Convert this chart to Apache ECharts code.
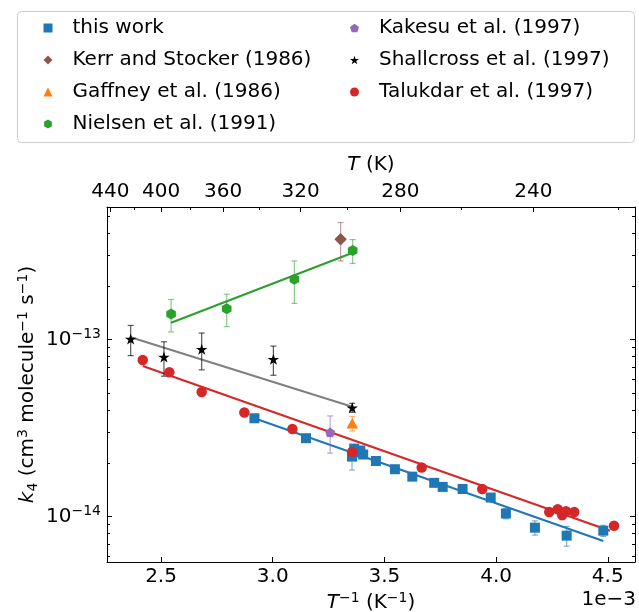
<!DOCTYPE html>
<html>
<head>
<meta charset="utf-8">
<script src="https://cdn.jsdelivr.net/npm/echarts@6/dist/echarts.min.js"></script>
<style>
  html, body { margin: 0; padding: 0; background: #fff; }
  #chart { width: 639px; height: 612px; }
</style>
</head>
<body>
<div id="chart"></div>
<script>
// x values are 1/T in units of 1e-3 K^-1, y values are k4 in cm3 molecule-1 s-1

// this work
const thisWorkX   = [2.918, 3.149, 3.355, 3.365, 3.378, 3.392, 3.405, 3.462, 3.547, 3.625, 3.723, 3.761, 3.850, 3.976, 4.044, 4.174, 4.316, 4.480];
const thisWorkK   = [3.59e-14, 2.77e-14, 2.18e-14, 2.42e-14, 2.30e-14, 2.36e-14, 2.24e-14, 2.06e-14, 1.85e-14, 1.68e-14, 1.55e-14, 1.47e-14, 1.43e-14, 1.28e-14, 1.04e-14, 8.65e-15, 7.80e-15, 8.32e-15];
const thisWorkErr = [0.08e-14, 0.08e-14, 0.35e-14, 0.08e-14, 0.08e-14, 0.08e-14, 0.08e-14, 0.06e-14, 0.05e-14, 0.05e-14, 0.05e-14, 0.05e-14, 0.04e-14, 0.04e-14, 0.07e-14, 0.80e-15, 1.00e-15, 0.60e-15];
const thisWorkFitX = [2.918, 4.480];
const thisWorkFitK = [3.59e-14, 7.28e-15];

// Kerr and Stocker (1986)
const kerrX = [3.304];
const kerrK = [3.68e-13];
const kerrErr = [0.90e-13];

// Gaffney et al. (1986)
const gaffneyX = [3.356];
const gaffneyK = [3.36e-14];
const gaffneyErr = [0.32e-14];

// Nielsen et al. (1991)
const nielsenX = [2.545, 2.794, 3.097, 3.358];
const nielsenK = [1.393e-13, 1.493e-13, 2.19e-13, 3.18e-13];
const nielsenErr = [0.29e-13, 0.31e-13, 0.59e-13, 0.49e-13];
const nielsenFitX = [2.545, 3.358];
const nielsenFitK = [1.244e-13, 3.09e-13];

// Kakesu et al. (1997)
const kakesuX = [3.257];
const kakesuK = [2.99e-14];
const kakesuErr = [0.71e-14];

// Shallcross et al. (1997)
const shallcrossX = [2.364, 2.513, 2.682, 3.003, 3.356];
const shallcrossK = [1.006e-13, 7.96e-14, 8.81e-14, 7.73e-14, 4.12e-14];
const shallcrossErr = [0.195e-13, 1.75e-14, 2.07e-14, 1.45e-14, 0.24e-14];
const shallcrossFitX = [2.364, 3.356];
const shallcrossFitK = [1.03e-13, 4.17e-14];

// Talukdar et al. (1997)
const talukdarX = [2.418, 2.537, 2.682, 2.873, 3.088, 3.356, 3.667, 3.938, 4.238, 4.276, 4.296, 4.313, 4.350, 4.528];
const talukdarK = [7.66e-14, 6.53e-14, 5.05e-14, 3.87e-14, 3.12e-14, 2.32e-14, 1.89e-14, 1.43e-14, 1.06e-14, 1.10e-14, 1.02e-14, 1.07e-14, 1.06e-14, 8.87e-15];
const talukdarErr = [0.10e-14, 0.10e-14, 0.20e-14, 0.08e-14, 0.06e-14, 0.05e-14, 0.04e-14, 0.03e-14, 0.03e-14, 0.03e-14, 0.06e-14, 0.03e-14, 0.03e-14, 0.03e-14];
const talukdarFitX = [2.418, 4.510];
const talukdarFitK = [7.08e-14, 8.32e-15];

// axis ticks
const bottomTicks = [2.5, 3.0, 3.5, 4.0, 4.5];
const topMajorT = [440, 400, 360, 320, 280, 240];
const topMinorT = [420, 380, 340, 300, 260, 220];
const yMajor = [1e-14, 1e-13];

// ---------------------------------------------------------------
const FONT = 'DejaVu Sans';
const X_MIN = 2.258, X_MAX = 4.622;
const Y_MIN = 5.534e-15, Y_MAX = 5.607e-13;

const yMinor = [];
[-15, -14, -13].forEach(e => {
  for (let m = 2; m <= 9; m++) {
    const v = m * Math.pow(10, e);
    if (v > Y_MIN && v < Y_MAX) yMinor.push(v);
  }
});

const SYM = {
  hexagon: 'path://M0,-1L0.866,-0.5L0.866,0.5L0,1L-0.866,0.5L-0.866,-0.5Z',
  pentagon: 'path://M0,-1L0.951,-0.309L0.588,0.809L-0.588,0.809L-0.951,-0.309Z',
  star: 'path://M0,-1L0.2245,-0.309L0.951,-0.309L0.3633,0.118L0.5878,0.809L0,0.382L-0.5878,0.809L-0.3633,0.118L-0.951,-0.309L-0.2245,-0.309Z'
};

const sets = [
  { name: 'this work', x: thisWorkX, k: thisWorkK, err: thisWorkErr, fitX: thisWorkFitX, fitK: thisWorkFitK },
  { name: 'Kerr and Stocker (1986)', x: kerrX, k: kerrK, err: kerrErr },
  { name: 'Gaffney et al. (1986)', x: gaffneyX, k: gaffneyK, err: gaffneyErr },
  { name: 'Nielsen et al. (1991)', x: nielsenX, k: nielsenK, err: nielsenErr, fitX: nielsenFitX, fitK: nielsenFitK },
  { name: 'Kakesu et al. (1997)', x: kakesuX, k: kakesuK, err: kakesuErr },
  { name: 'Shallcross et al. (1997)', x: shallcrossX, k: shallcrossK, err: shallcrossErr, fitX: shallcrossFitX, fitK: shallcrossFitK },
  { name: 'Talukdar et al. (1997)', x: talukdarX, k: talukdarK, err: talukdarErr, fitX: talukdarFitX, fitK: talukdarFitK }
];

const look = {
  'this work':                { color: '#1f77b4', err: 'rgba(31,119,180,0.55)',  fit: '#1f77b4', symbol: 'rect',       size: 10 },
  'Kerr and Stocker (1986)':  { color: '#8c564b', err: 'rgba(140,86,75,0.55)',   symbol: 'diamond',    size: 12.5 },
  'Gaffney et al. (1986)':    { color: '#ff7f0e', err: 'rgba(255,127,14,0.6)',   symbol: 'triangle',   size: [11.5, 10.5] },
  'Nielsen et al. (1991)':    { color: '#2ca02c', err: 'rgba(44,160,44,0.55)',   fit: '#2ca02c', symbol: SYM.hexagon,  size: [9.6, 11] },
  'Kakesu et al. (1997)':     { color: '#9467bd', err: 'rgba(148,103,189,0.6)',  symbol: SYM.pentagon, size: [10, 9.5] },
  'Shallcross et al. (1997)': { color: '#000000', err: 'rgba(0,0,0,0.65)',       fit: '#808080', symbol: SYM.star,     size: [11.5, 11] },
  'Talukdar et al. (1997)':   { color: '#d62728', err: 'rgba(214,39,40,0.55)',   fit: '#d62728', symbol: 'circle',     size: 10.5 }
};

function errorBars(color) {
  return function (params, api) {
    const x = api.value(0);
    const lo = api.coord([x, api.value(1)]);
    const hi = api.coord([x, api.value(2)]);
    const style = { stroke: color, lineWidth: 1.2, fill: null };
    const cap = 3;
    return {
      type: 'group',
      children: [
        { type: 'line', shape: { x1: lo[0], y1: lo[1], x2: hi[0], y2: hi[1] }, style },
        { type: 'line', shape: { x1: lo[0] - cap, y1: lo[1], x2: lo[0] + cap, y2: lo[1] }, style },
        { type: 'line', shape: { x1: hi[0] - cap, y1: hi[1], x2: hi[0] + cap, y2: hi[1] }, style }
      ]
    };
  };
}

const series = [];
sets.forEach(s => {
  const L = look[s.name];
  if (s.fitX) {
    series.push({
      name: s.name + ' fit', type: 'line', silent: true, z: 2,
      data: s.fitX.map((x, i) => [x, s.fitK[i]]),
      showSymbol: false, symbol: 'none',
      lineStyle: { color: L.fit, width: 2.1 }
    });
  }
});
sets.forEach(s => {
  const L = look[s.name];
  series.push({
    name: s.name + ' err', type: 'custom', silent: true, z: 3,
    renderItem: errorBars(L.err),
    encode: { x: 0, y: [1, 2] },
    data: s.x.map((x, i) => [x, s.k[i] - s.err[i], s.k[i] + s.err[i]])
  });
  series.push({
    name: s.name, type: 'scatter', z: 4,
    symbol: L.symbol, symbolSize: L.size,
    itemStyle: { color: L.color, opacity: 1 },
    data: s.x.map((x, i) => [x, s.k[i]])
  });
});

const baseText = { fontFamily: FONT, fontSize: 20, color: '#000', lineHeight: 24 };
const rich = {
  n:   { fontFamily: FONT, fontSize: 20, color: '#000', lineHeight: 24 },
  i:   { fontFamily: FONT, fontSize: 20, color: '#000', lineHeight: 24, fontStyle: 'italic' },
  sup: { fontFamily: FONT, fontSize: 14, color: '#000', lineHeight: 12, verticalAlign: 'top' },
  sub: { fontFamily: FONT, fontSize: 14, color: '#000', lineHeight: 12, verticalAlign: 'bottom' }
};

const tickLine = { show: true, lineStyle: { color: '#000', width: 1 } };
const noLine = { show: false };

// legend marker box is 9 px; the label is pushed right so it starts ~24 px after the marker centre
const legendCommon = {
  orient: 'vertical', padding: 0, itemGap: 10, itemWidth: 9, itemHeight: 9,
  selectedMode: false,
  textStyle: { fontFamily: FONT, fontSize: 20, color: '#000', lineHeight: 22, padding: [0, 0, 0, 15] }
};

const option = {
  animation: false,
  backgroundColor: '#fff',
  grid: { left: 107, top: 207, width: 528, height: 355, containLabel: false, outerBoundsMode: 'none' },
  legend: [
    Object.assign({}, legendCommon, { left: 43.5, top: 17, data: sets.slice(0, 4).map(s => s.name) }),
    Object.assign({}, legendCommon, { left: 350, top: 17, data: sets.slice(4).map(s => s.name) })
  ],
  graphic: [
    { type: 'rect', left: 17, top: 11, z: -1, shape: { width: 617, height: 131, r: 4 },
      style: { fill: 'rgba(255,255,255,0.8)', stroke: '#cccccc', lineWidth: 1 } },
    { type: 'text', right: 3, top: 590, style: { text: '1e\u22123', font: '20px "DejaVu Sans"', fill: '#000' } }
  ],
  xAxis: [
    {
      type: 'value', position: 'bottom', min: X_MIN, max: X_MAX,
      axisLine: tickLine, splitLine: { show: false },
      axisTick: { show: true, inside: true, length: 5, customValues: bottomTicks, lineStyle: { color: '#000' } },
      axisLabel: { customValues: bottomTicks, margin: 5, formatter: v => v.toFixed(1), fontFamily: FONT, fontSize: 20, color: '#000' },
      name: '{i|T}{sup|\u22121}{n| (K}{sup|\u22121}{n|)}', nameLocation: 'middle', nameGap: 29, nameMoveOverlap: false,
      nameTextStyle: Object.assign({}, baseText, { rich })
    },
    {
      type: 'value', position: 'top', min: X_MIN, max: X_MAX,
      axisLine: tickLine, splitLine: { show: false },
      axisTick: { show: true, inside: true, length: 5, customValues: topMajorT.map(t => 1000 / t), lineStyle: { color: '#000' } },
      axisLabel: { customValues: topMajorT.map(t => 1000 / t), margin: 5, formatter: v => String(Math.round(1000 / v)), fontFamily: FONT, fontSize: 20, color: '#000' },
      name: '{i|T}{n| (K)}', nameLocation: 'middle', nameGap: 30, nameMoveOverlap: false,
      nameTextStyle: Object.assign({}, baseText, { rich })
    },
    {
      type: 'value', position: 'top', min: X_MIN, max: X_MAX,
      axisLine: noLine, splitLine: { show: false },
      axisTick: { show: true, inside: true, length: 3, customValues: topMinorT.map(t => 1000 / t), lineStyle: { color: '#000' } },
      axisLabel: { show: false }
    }
  ],
  yAxis: [
    {
      type: 'log', logBase: 10, position: 'left', min: Y_MIN, max: Y_MAX,
      axisLine: tickLine, splitLine: { show: false }, minorTick: { show: false },
      axisTick: { show: true, inside: true, length: 5, customValues: yMajor, lineStyle: { color: '#000' } },
      axisLabel: {
        customValues: yMajor, margin: 6,
        formatter: v => '{b|10}{s|\u2212' + Math.round(-Math.log10(v)) + '}',
        rich: {
          b: { fontFamily: FONT, fontSize: 20, color: '#000', lineHeight: 24 },
          s: { fontFamily: FONT, fontSize: 14, color: '#000', lineHeight: 12, verticalAlign: 'top' }
        }
      },
      name: '{i|k}{sub|4}{n| (cm}{sup|3}{n| molecule}{sup|\u22121}{n| s}{sup|\u22121}{n|)}',
      nameLocation: 'middle', nameGap: 67, nameRotate: 90, nameMoveOverlap: false,
      nameTextStyle: Object.assign({}, baseText, { rich })
    },
    {
      type: 'log', logBase: 10, position: 'left', min: Y_MIN, max: Y_MAX,
      axisLine: noLine, splitLine: { show: false },
      axisTick: { show: true, inside: true, length: 3, customValues: yMinor, lineStyle: { color: '#000' } },
      axisLabel: { show: false }
    },
    {
      type: 'log', logBase: 10, position: 'right', min: Y_MIN, max: Y_MAX,
      axisLine: tickLine, splitLine: { show: false },
      axisTick: { show: true, inside: true, length: 5, customValues: yMajor, lineStyle: { color: '#000' } },
      axisLabel: { show: false }
    },
    {
      type: 'log', logBase: 10, position: 'right', min: Y_MIN, max: Y_MAX,
      axisLine: noLine, splitLine: { show: false },
      axisTick: { show: true, inside: true, length: 3, customValues: yMinor, lineStyle: { color: '#000' } },
      axisLabel: { show: false }
    }
  ],
  series
};

const chart = echarts.init(document.getElementById('chart'), null, { renderer: 'canvas' });
chart.setOption(option);
</script>
</body>
</html>
